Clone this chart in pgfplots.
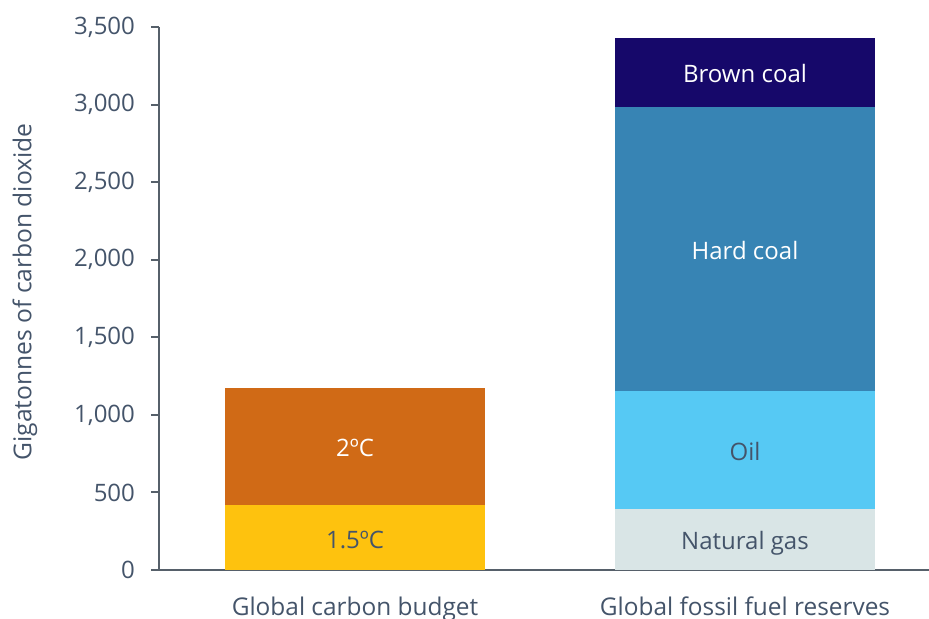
\documentclass[border=0pt]{standalone}
\usepackage{fontspec}
\setmainfont{Open Sans}
\usepackage{pgfplots}
\pgfplotsset{compat=1.18}
\definecolor{txt}{HTML}{44546A}
\definecolor{axc}{HTML}{56606A}
\definecolor{cA}{HTML}{FEC20E}
\definecolor{cB}{HTML}{D06A16}
\definecolor{cGas}{HTML}{D9E5E6}
\definecolor{cOil}{HTML}{56C9F4}
\definecolor{cHard}{HTML}{3784B4}
\definecolor{cBrown}{HTML}{16086A}
\begin{document}
\begin{tikzpicture}
\begin{axis}[
  scale only axis,
  width=385pt, height=271.5pt,
  ybar stacked, bar width=130pt,
  xmin=-0.5026, xmax=1.4718,
  ymin=0, ymax=3500,
  ytick={0,500,...,3500},
  xtick={0,1},
  xticklabels={Global carbon budget, Global fossil fuel reserves},
  axis x line*=bottom, axis y line*=left,
  axis line style={axc, line width=1pt},
  x axis line style={-}, y axis line style={-},
  xtick style={draw=none},
  ytick style={axc, line width=1pt},
  tick align=outside,
  major tick length=4pt,
  font=\fontsize{12}{14}\selectfont,
  yticklabel style={txt, font=\fontsize{12}{14}\selectfont, xshift=-4.5pt},
  xticklabel style={txt, font=\fontsize{12.2}{14}\selectfont, yshift=-6pt},
  /pgf/number format/.cd, 1000 sep={,}, assume math mode=true, /pgfplots/.cd,
  ylabel={Gigatonnes of carbon dioxide},
  ylabel style={txt, at={(axis description cs:-0.174,0.512)}, anchor=center, font=\fontsize{12.3}{14}\selectfont},
  every axis plot/.append style={draw=none},
  clip=false,
]
\addplot[fill=cA] coordinates {(0,420) (1,0)};
\addplot[fill=cB] coordinates {(0,750) (1,0)};
\addplot[fill=cGas] coordinates {(0,0) (1,393)};
\addplot[fill=cOil] coordinates {(0,0) (1,762)};
\addplot[fill=cHard] coordinates {(0,0) (1,1830)};
\addplot[fill=cBrown] coordinates {(0,0) (1,445)};
\coordinate (l1) at (axis cs:0,195);
\coordinate (l2) at (axis cs:0,790);
\coordinate (l3) at (axis cs:1,172);
\coordinate (l4) at (axis cs:1,765);
\coordinate (l5) at (axis cs:1,2060);
\coordinate (l6) at (axis cs:1,3200);
\end{axis}
\begin{scope}[every node/.style={font=\fontsize{12}{14}\selectfont}]
\node[txt] at (l1) {1.5ºC};
\node[white] at (l2) {2ºC};
\node[txt] at (l3) {Natural gas};
\node[txt] at (l4) {Oil};
\node[white] at (l5) {Hard coal};
\node[white] at (l6) {Brown coal};
\end{scope}
\pgfresetboundingbox
\path (-79.5pt,-24.5pt) rectangle (385pt,285pt);
\end{tikzpicture}
\end{document}
